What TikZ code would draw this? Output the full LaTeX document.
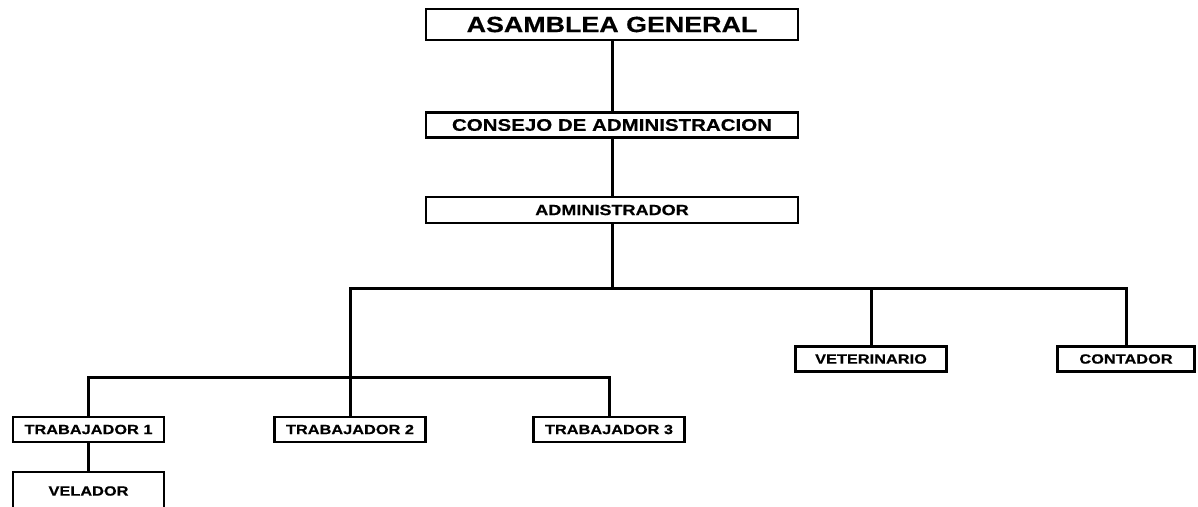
\documentclass[tikz,border=0pt]{standalone}
\usepackage{fontspec}
\newfontfamily\orgfont{Liberation Sans}[FakeStretch=1.22,FakeBold=0.5]
\begin{document}
\begin{tikzpicture}[x=1pt,y=-1pt]
\tikzstyle{every node}=[draw,line width=2.8pt,inner sep=0pt]
\tikzstyle{mayor}=[minimum width=372pt,minimum height=25pt]
\tikzstyle{menor}=[minimum width=151pt,minimum height=25pt,font=\orgfont\bfseries\fontsize{13.4}{15}\selectfont]
\useasboundingbox (0,0) rectangle (1198,506);
\node[mayor,minimum height=31pt,font=\orgfont\bfseries\fontsize{22}{24}\selectfont] at (612,24.5) (asam) {ASAMBLEA GENERAL};
\node[mayor,font=\orgfont\bfseries\fontsize{16.8}{19}\selectfont] at (612,125) (cons) {CONSEJO DE ADMINISTRACION};
\node[mayor,minimum height=26pt,font=\orgfont\bfseries\fontsize{14.8}{17}\selectfont] at (612,210) (adm) {ADMINISTRADOR};
\node[menor] at (871,359) (vet) {VETERINARIO};
\node[menor,minimum width=137pt] at (1126,359) (cont) {CONTADOR};
\node[menor] at (88.5,429.5) (trab1) {TRABAJADOR 1};
\node[menor] at (350,429.5) (trab2) {TRABAJADOR 2};
\node[menor] at (609,429.5) (trab3) {TRABAJADOR 3};
\node[menor,minimum height=38pt] at (88.5,491) (vel) {VELADOR};
\coordinate (j1) at (612,288);
\coordinate (j2) at (350,377);
\draw[line width=3pt]
     (asam) -- (cons)
     (cons) -- (adm)
      (adm) -- (j1)
    (trab2) |- (j1) -| (cont)
      (vet) -- (vet |- j1)
    (trab1) |- (j2) -| (trab3)
    (trab1) -- (vel);
\end{tikzpicture}
\end{document}
